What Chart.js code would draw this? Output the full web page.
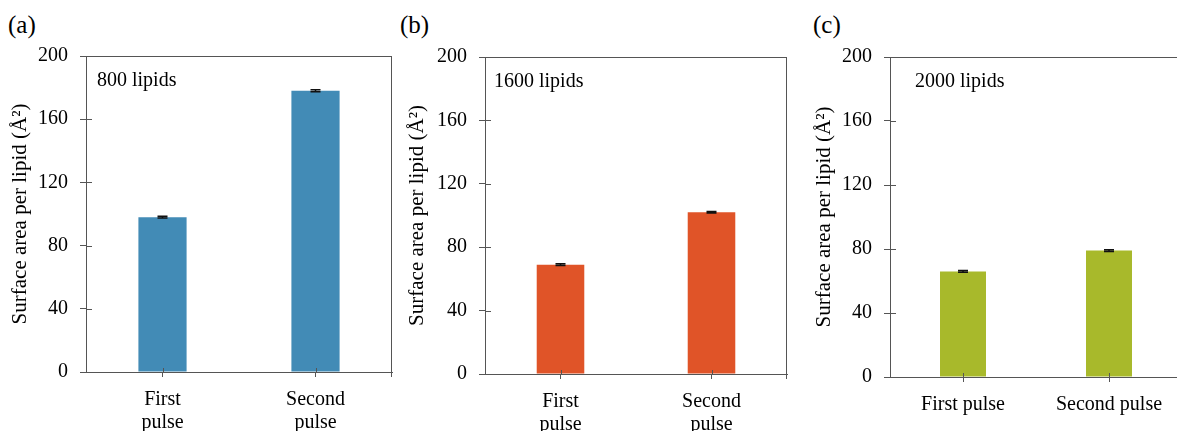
<!DOCTYPE html>
<html>
<head>
<meta charset="utf-8">
<script src="https://cdn.jsdelivr.net/npm/chart.js@4.4.1/dist/chart.umd.min.js"></script>
<style>
  html, body { margin: 0; padding: 0; background: #fff; overflow: hidden; width: 1177px; height: 431px; }
  .panel { position: absolute; top: 0; }
  .plabel { position: absolute; font-family: 'Liberation Serif', 'Times New Roman', serif; font-size: 25px; line-height: 1; color: #000; }
</style>
</head>
<body>
<div class="plabel" style="left:8px; top:12px;">(a)</div>
<div class="plabel" style="left:400px; top:12px;">(b)</div>
<div class="plabel" style="left:813px; top:12px;">(c)</div>
<div class="panel" style="left:0px;"><canvas id="ca" width="400" height="431"></canvas></div>
<div class="panel" style="left:395px;"><canvas id="cb" width="400" height="431"></canvas></div>
<div class="panel" style="left:800px;"><canvas id="cc" width="382" height="431"></canvas></div>
<script>
// ---- data ----
const categoriesTwoLine = [['First', 'pulse'], ['Second', 'pulse']];
const categoriesOneLine = ['First pulse', 'Second pulse'];
const valuesA = [98, 178];
const errorsA = [0.6, 0.6];
const valuesB = [69, 102];
const errorsB = [0.5, 0.5];
const valuesC = [66, 79];
const errorsC = [0.5, 0.5];
const yMin = 0, yMax = 200, yStep = 40;
const yTitle = 'Surface area per lipid (Å²)';
const notes = ['800 lipids', '1600 lipids', '2000 lipids'];

const FONT = "'Liberation Serif', 'Times New Roman', serif";
const AXIS = '#555555';

const decorPlugin = {
  id: 'decor',
  afterDraw(chart, args, opts) {
    const ctx = chart.ctx, a = chart.chartArea;
    const xs = chart.scales.x, ys = chart.scales.y;
    ctx.save();
    ctx.strokeStyle = AXIS; ctx.lineWidth = 1;
    // frame top & right
    ctx.beginPath();
    ctx.moveTo(a.left, a.top + 0.5); ctx.lineTo(a.right, a.top + 0.5);
    ctx.moveTo(a.right - 0.5, a.top); ctx.lineTo(a.right - 0.5, a.bottom + 5);
    ctx.stroke();
    // inner tick parts
    ctx.beginPath();
    ys.ticks.forEach((t, i) => {
      const y = Math.round(ys.getPixelForTick(i)) + 0.5;
      ctx.moveTo(a.left, y); ctx.lineTo(a.left + 6, y);
    });
    xs.ticks.forEach((t, i) => {
      const x = Math.round(xs.getPixelForTick(i)) + 0.5;
      ctx.moveTo(x, a.bottom); ctx.lineTo(x, a.bottom - 4);
    });
    ctx.stroke();
    // error bars
    const meta = chart.getDatasetMeta(0);
    const vals = chart.data.datasets[0].data;
    ctx.strokeStyle = '#111'; ctx.lineWidth = 1.5;
    meta.data.forEach((bar, i) => {
      const e = opts.errors[i];
      const yHi = ys.getPixelForValue(vals[i] + e);
      const yLo = ys.getPixelForValue(vals[i] - e);
      ctx.beginPath();
      ctx.moveTo(bar.x, yHi); ctx.lineTo(bar.x, yLo);
      ctx.moveTo(bar.x - 5, yHi); ctx.lineTo(bar.x + 5, yHi);
      ctx.moveTo(bar.x - 5, yLo); ctx.lineTo(bar.x + 5, yLo);
      ctx.stroke();
    });
    // annotation
    ctx.fillStyle = '#000';
    ctx.font = '20px ' + FONT;
    ctx.textBaseline = 'alphabetic';
    ctx.fillText(opts.note, a.left + opts.noteDx, a.top + 30);
    ctx.restore();
  }
};

function makeChart(id, labels, values, errors, color, cfg) {
  return new Chart(document.getElementById(id), {
    type: 'bar',
    data: {
      labels: labels,
      datasets: [{ data: values, backgroundColor: color, borderWidth: 0,
                   categoryPercentage: 1, barPercentage: 0.315 }]
    },
    options: {
      responsive: false,
      animation: false,
      layout: { padding: { top: cfg.top, right: cfg.right, bottom: 0, left: 0 } },
      plugins: {
        legend: { display: false },
        tooltip: { enabled: false },
        decor: { errors: errors, note: cfg.note, noteDx: cfg.noteDx }
      },
      scales: {
        x: {
          grid: { display: true, drawOnChartArea: false, drawTicks: true, tickLength: 5, color: AXIS, offset: false },
          border: { display: true, color: AXIS, width: 1 },
          ticks: { color: '#000', font: { family: FONT, size: 20, lineHeight: 1.15 }, padding: 11, maxRotation: 0 },
          afterFit(s) { s.height = cfg.xh; }
        },
        y: {
          min: yMin, max: yMax,
          grid: { display: true, drawOnChartArea: false, drawTicks: true, tickLength: 6, color: AXIS },
          border: { display: true, color: AXIS, width: 1 },
          ticks: { stepSize: yStep, color: '#000', font: { family: FONT, size: 20 }, padding: 12 },
          title: { display: true, text: yTitle, color: '#000', font: { family: FONT, size: 21 }, padding: { top: cfg.tpad, bottom: 0 } },
          afterFit(s) { s.width = cfg.yw; }
        }
      }
    },
    plugins: [decorPlugin]
  });
}

makeChart('ca', categoriesTwoLine, valuesA, errorsA, '#428bb6',
  { top: 56, right: 8, xh: 431 - 372, yw: 86, tpad: 8, note: notes[0], noteDx: 11 });
makeChart('cb', categoriesTwoLine, valuesB, errorsB, '#e05428',
  { top: 57, right: 8, xh: 431 - 374, yw: 90, tpad: 10, note: notes[1], noteDx: 9 });
makeChart('cc', categoriesOneLine, valuesC, errorsC, '#a8b92b',
  { top: 57, right: 0, xh: 431 - 377, yw: 90, tpad: 12, note: notes[2], noteDx: 25 });
</script>
</body>
</html>
